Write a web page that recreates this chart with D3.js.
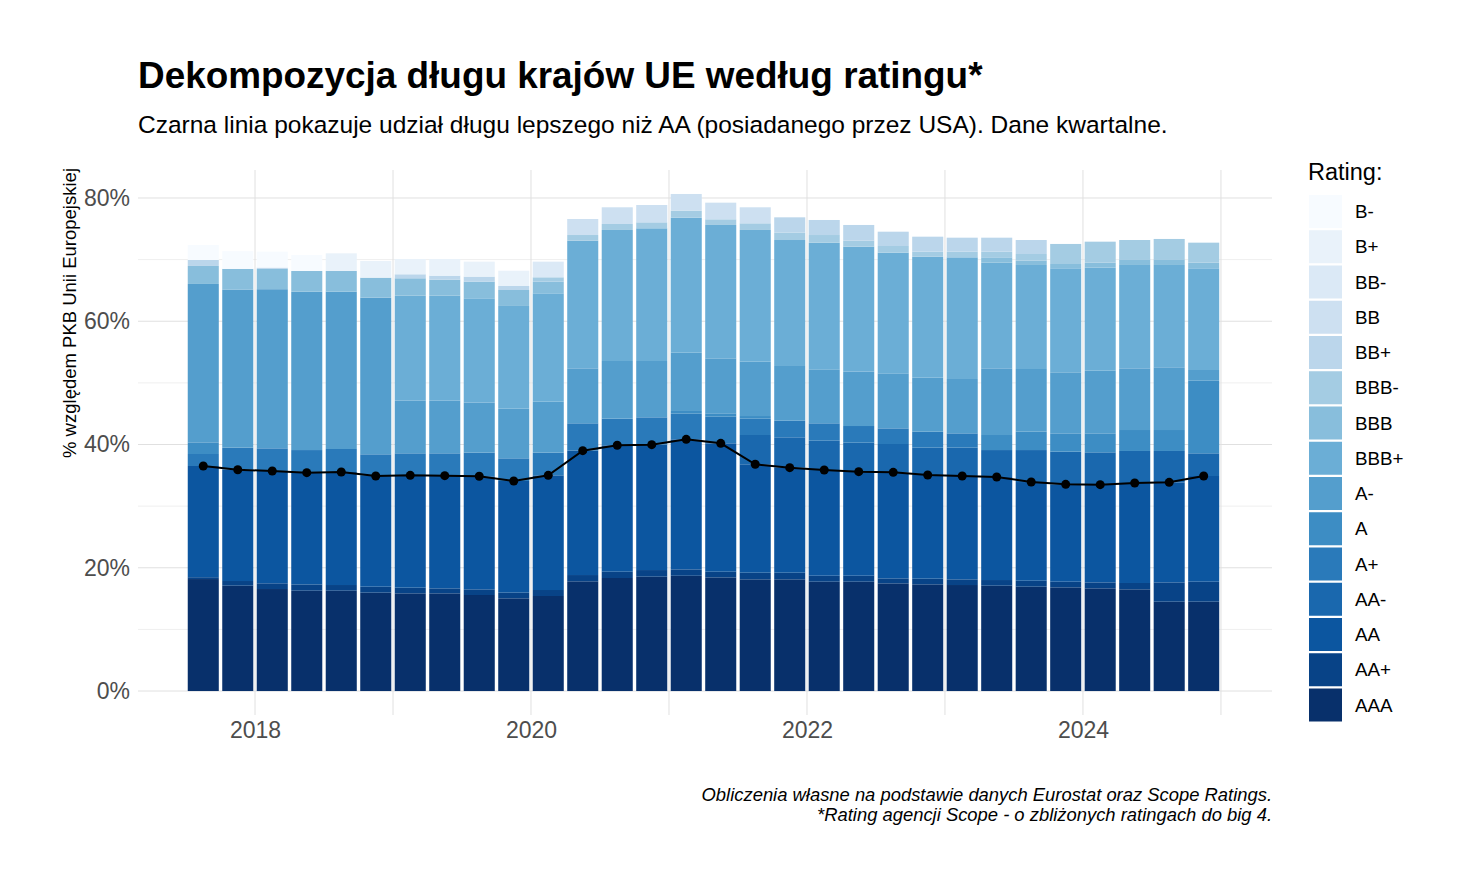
<!DOCTYPE html>
<html>
<head>
<meta charset="utf-8">
<script src="https://cdn.jsdelivr.net/npm/d3@7"></script>
<style>
  body { margin: 0; background: #fff; }
  text { font-family: "Liberation Sans", Arial, sans-serif; }
</style>
</head>
<body>
<div class="container"></div>
<script>
// dane kwartalne, % PKB UE wg ratingu (od dołu stosu: AAA ... B-)
const quarters = ["2017Q3","2017Q4","2018Q1","2018Q2","2018Q3","2018Q4","2019Q1","2019Q2","2019Q3","2019Q4",
                  "2020Q1","2020Q2","2020Q3","2020Q4","2021Q1","2021Q2","2021Q3","2021Q4","2022Q1","2022Q2",
                  "2022Q3","2022Q4","2023Q1","2023Q2","2023Q3","2023Q4","2024Q1","2024Q2","2024Q3","2024Q4"]

const ratings = ["AAA","AA+","AA","AA-","A+","A","A-","BBB+","BBB","BBB-","BB+","BB","BB-","B+","B-"]

const rAAA  = [18.17,17.09,16.55,16.28,16.28,15.96,15.85,15.85,15.58,15.04,15.42,17.8,18.34,18.55,18.7,18.44,18.12,18.12,17.74,17.74,17.47,17.31,17.2,17.09,16.93,16.82,16.66,16.5,14.5,14.5]
const rAAp  = [0.3,0.76,0.93,1.02,0.92,0.97,0.92,0.81,0.92,0.92,0.97,1.02,1.02,1.08,1.04,0.92,1.08,1.08,0.97,0.97,0.81,0.92,0.92,0.92,0.97,0.92,0.97,1.03,3.13,3.24]
const rAA   = [18.04,18.06,18.22,18.13,18.34,17.96,18.23,18.28,18.34,18.12,18.61,20.18,20.51,20.34,21.1,20.83,17.59,17.04,17.15,16.88,17.2,16.82,16.77,16.72,16.01,15.8,15.85,16.22,16.23,17.15]
const rAAm  = [0,0,0,0,0,0,0,0,0,0,0,0,0,0,0,0,4.75,4.93,4.76,4.71,4.6,4.44,4.6,4.37,5.19,5.3,5.25,5.2,5.09,3.68]
const rAp   = [1.95,3.58,3.68,3.67,3.73,3.52,3.57,3.63,3.84,3.68,3.68,4.44,4.32,4.44,4.16,4.32,2.65,2.69,2.82,2.7,2.54,2.59,2.32,0,0,0,0,0,0,0]
const rA    = [1.89,0,0,0,0,0,0,0,0,0,0,0,0,0,0.44,0.55,0.43,0,0,0,0,0,0,2.44,2.98,2.97,3.08,3.4,3.4,11.78]
const rAm   = [25.7,25.66,25.82,25.7,25.53,25.42,8.54,8.54,8.11,8.05,8.27,8.92,9.36,9.14,9.46,8.92,8.82,8.88,8.76,8.82,8.93,8.76,8.82,10.82,10.17,9.9,10.17,10.01,10.18,1.74]
const rBBBp = [0,0,0,0,0,0,17.04,17.04,16.93,16.67,17.58,20.71,21.26,21.53,21.9,21.64,21.37,20.44,20.55,20.28,19.58,19.64,19.74,17.14,16.88,16.88,16.71,16.77,16.6,16.5]
const rBBB  = [2.92,3.35,3.3,3.35,3.35,3.24,2.82,2.6,2.71,2.59,1.9,0,0,0,0,0,0,0,0,0,0,0,0,0.87,0.7,0.7,0.81,0.92,0.92,0.91]
const rBBBm = [0,0,0,0,0,0,0,0,0,0,0.7,0.92,0.97,0.97,1.14,0.92,1.08,1.19,1.24,0.97,1.08,0.81,0.92,0.92,1.08,3.25,3.41,3.13,3.3,3.25]
const rBBp  = [0.97,0,0.2,0,0,0,0.65,0.65,0.81,0.65,0,0,0,0,0,0,0,2.49,2.44,2.55,2.32,2.43,2.27,2.27,2.27,0,0,0,0,0]
const rBB   = [0,0,0,0,0,0,0,0,0,0,0,2.6,2.71,2.81,2.71,2.7,2.6,0,0,0,0,0,0,0,0,0,0,0,0,0]
const rBBm  = [0,0,0,0,0,0,0,0,0,0,2.54,0,0,0,0,0,0,0,0,0,0,0,0,0,0,0,0,0,0,0]
const rBp   = [0,0,0,0,2.87,2.71,2.48,2.7,2.43,2.48,0,0,0,0,0,0,0,0,0,0,0,0,0,0,0,0,0,0,0,0]
const rBm   = [2.43,2.87,2.59,2.6,0,0,0,0,0,0,0,0,0,0,0,0,0,0,0,0,0,0,0,0,0,0,0,0,0,0]

const series = [rAAA,rAAp,rAA,rAAm,rAp,rA,rAm,rBBBp,rBBB,rBBBm,rBBp,rBB,rBBm,rBp,rBm]

const yTicks = [0,20,40,60,80]
const xTicks = [2018,2020,2022,2024]

// wymiary
const width = 1481
const height = 889
const panel = {left: 138, right: 1272, top: 170, bottom: 715}

const svg = d3.select(".container").append("svg").attr("width", width).attr("height", height)
const gridGroup = svg.append("g").attr("id","gridGroup")
const elementGroup = svg.append("g").attr("id","elementGroup")
const lineGroup = svg.append("g").attr("id","lineGroup")
const axisGroup = svg.append("g").attr("id","axisGroup")

// skale
const x = d3.scaleLinear().domain([2017.152, 2025.37]).range([panel.left, panel.right])
const y = d3.scaleLinear().domain([-3.89, 84.54]).range([panel.bottom, panel.top])

const blues9 = ["#F7FBFF","#DEEBF7","#C6DBEF","#9ECAE1","#6BAED6","#4292C6","#2171B5","#08519C","#08306B"]
const ramp = d3.piecewise(d3.interpolateRgb, blues9)
const color = d3.scaleOrdinal().domain(ratings).range(ratings.map((r,i) => ramp((ratings.length-1-i)/(ratings.length-1))))

// tabela
const table = quarters.map((q,i) => {
    const row = {quarter: q, t: +q.slice(0,4) + (+q.slice(5) - 0.5)/4}
    ratings.forEach((r,k) => row[r] = series[k][i])
    return row
})
const stacked = d3.stack().keys(ratings)(table)

// siatka
const minorY = [10,30,50,70]
gridGroup.selectAll(".minorY").data(minorY).join("line")
    .attr("x1", panel.left).attr("x2", panel.right)
    .attr("y1", d => y(d)).attr("y2", d => y(d))
    .attr("stroke", "#EFEFEF").attr("stroke-width", 1)
gridGroup.selectAll(".majorY").data(yTicks).join("line")
    .attr("x1", panel.left).attr("x2", panel.right)
    .attr("y1", d => y(d)).attr("y2", d => y(d))
    .attr("stroke", "#E0E0E0").attr("stroke-width", 1)
gridGroup.selectAll(".gridX").data([2018,2019,2020,2021,2022,2023,2024,2025]).join("line")
    .attr("x1", d => x(d)).attr("x2", d => x(d))
    .attr("y1", panel.top).attr("y2", panel.bottom)
    .attr("stroke", "#E0E0E0").attr("stroke-width", 1)

// słupki
const barW = (x(2018.25) - x(2018)) * 0.9
elementGroup.selectAll("g").data(stacked).join("g")
    .attr("fill", d => color(d.key))
    .selectAll("rect").data(d => d).join("rect")
        .attr("x", d => x(d.data.t) - barW/2)
        .attr("y", d => y(d[1]))
        .attr("width", barW)
        .attr("height", d => Math.max(0, y(d[0]) - y(d[1])))

// linia: dług lepszy niż AA (AAA + AA+ + AA)
const topAA = stacked.find(s => s.key === "AA")
lineGroup.append("path").datum(topAA)
    .attr("fill", "none").attr("stroke", "#000").attr("stroke-width", 2)
    .attr("d", d3.line().x(d => x(d.data.t)).y(d => y(d[1])))
lineGroup.selectAll("circle").data(topAA).join("circle")
    .attr("cx", d => x(d.data.t)).attr("cy", d => y(d[1])).attr("r", 4.5).attr("fill", "#000")

// osie
const yAxis = d3.axisLeft(y).tickValues(yTicks).tickFormat(d => d + "%").tickSize(0).tickPadding(8)
const xAxis = d3.axisBottom(x).tickValues(xTicks).tickFormat(d3.format("d")).tickSize(0).tickPadding(7)

const yAxisGroup = axisGroup.append("g").attr("transform", `translate(${panel.left},0)`).call(yAxis)
const xAxisGroup = axisGroup.append("g").attr("transform", `translate(0,${panel.bottom})`).call(xAxis)
axisGroup.selectAll(".domain").remove()
axisGroup.selectAll(".tick text").attr("fill", "#4D4D4D").style("font-size", "23px")
    .style("font-family", '"Liberation Sans", Arial, sans-serif')

// teksty
svg.append("text").attr("x", 138).attr("y", 88)
    .style("font-size", "36.9px").style("font-weight", 700)
    .text("Dekompozycja długu krajów UE według ratingu*")
svg.append("text").attr("x", 138).attr("y", 133)
    .style("font-size", "24.5px")
    .text("Czarna linia pokazuje udział długu lepszego niż AA (posiadanego przez USA). Dane kwartalne.")

svg.append("text")
    .attr("transform", `translate(76,${panel.top - 2}) rotate(-90)`)
    .style("text-anchor", "end").style("font-size", "18.5px")
    .text("% względem PKB Unii Europejskiej")

svg.append("text").attr("x", 1272).attr("y", 801)
    .style("text-anchor", "end").style("font-size", "18.4px").style("font-style", "italic")
    .text("Obliczenia własne na podstawie danych Eurostat oraz Scope Ratings.")
svg.append("text").attr("x", 1272).attr("y", 821)
    .style("text-anchor", "end").style("font-size", "18.4px").style("font-style", "italic")
    .text("*Rating agencji Scope - o zbliżonych ratingach do big 4.")

// legenda
const legend = svg.append("g").attr("id","legend").attr("transform", "translate(1309,195)")
legend.append("text").attr("x", -1).attr("y", -15).style("font-size", "23.5px").text("Rating:")
const legendItems = legend.selectAll("g").data(ratings.slice().reverse()).join("g")
    .attr("transform", (d,i) => `translate(0,${i*35.25})`)
legendItems.append("rect").attr("width", 33).attr("height", 33).attr("fill", d => color(d))
legendItems.append("text").attr("x", 46).attr("y", 23).style("font-size", "18.8px").text(d => d)
</script>
</body>
</html>
